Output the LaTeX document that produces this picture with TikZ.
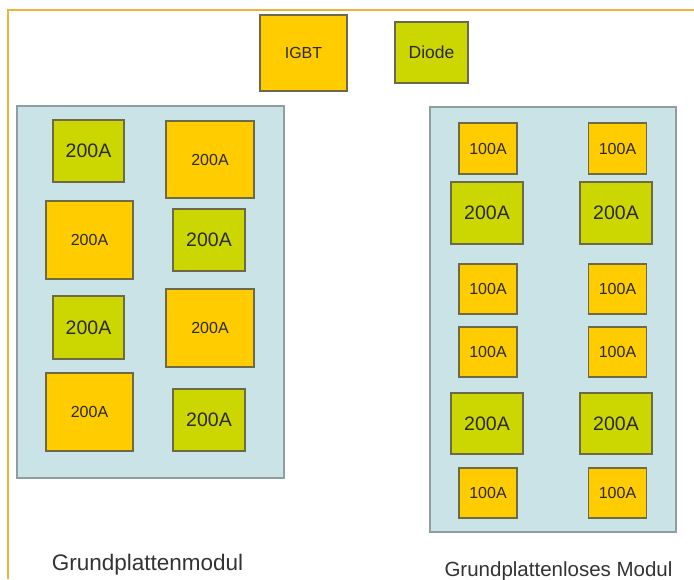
\documentclass[tikz,border=0pt]{standalone}
\usepackage{fontspec}
\setmainfont{Liberation Sans}
\definecolor{igbtc}{HTML}{FFCC00}
\definecolor{diodec}{HTML}{CCD600}
\definecolor{panelc}{HTML}{C9E3E7}
\definecolor{paneledge}{HTML}{8E9EA2}
\definecolor{boxedge}{HTML}{6E6948}
\definecolor{framec}{HTML}{EDB33C}
\definecolor{txtc}{HTML}{2A2A20}
\definecolor{labc}{HTML}{333333}
\begin{document}
\begin{tikzpicture}[x=1pt,y=-1pt,
  panel/.style={draw=paneledge,fill=panelc,line width=1.5pt,inner sep=0pt,rectangle},
  chip/.style={draw=boxedge,line width=1.3pt,inner sep=0pt,rectangle,text=txtc},
  igbt/.style={chip,fill=igbtc,font=\fontsize{16}{16}\selectfont},
  diode/.style={chip,fill=diodec,font=\fontsize{19.5}{19.5}\selectfont},
  lab/.style={text=labc,inner sep=0pt,anchor=base}]
\useasboundingbox (0,0) rectangle (694,579);
\fill[white] (0,0) rectangle (694,579);
\draw[framec,line width=2.5pt] (8,579) -- (8,10) -- (694,10);
% legend
\node[igbt,minimum width=87,minimum height=76] (legI) at (303.5,53) {IGBT};
\node[diode,font=\fontsize{17.5}{17.5}\selectfont,minimum width=73,minimum height=61] (legD) at (431.5,52.5) {Diode};
% left panel
\node[panel,minimum width=267,minimum height=372] (lp) at (150.5,292) {};
\node[diode,minimum width=71,minimum height=62] (l1g) at (88.5,151) {200A};
\node[igbt,minimum width=88,minimum height=77] (l1o) at (210,159.5) {200A};
\node[igbt,minimum width=87,minimum height=78] (l2o) at (89.5,240) {200A};
\node[diode,minimum width=72,minimum height=62] (l2g) at (209,240) {200A};
\node[diode,minimum width=71,minimum height=63] (l3g) at (88.5,327.5) {200A};
\node[igbt,minimum width=88,minimum height=78] (l3o) at (210,328) {200A};
\node[igbt,minimum width=87,minimum height=78] (l4o) at (89.5,412) {200A};
\node[diode,minimum width=72,minimum height=62] (l4g) at (209,420) {200A};
\node[lab,font=\fontsize{22.5}{22.5}\selectfont] (llab) at (147.5,570) {Grundplattenmodul};
% right panel
\node[panel,minimum width=246,minimum height=425] (rp) at (553,319.5) {};
\foreach \c/\x/\bx in {a/488/487,b/617.5/616}{
  \node[igbt,minimum width=58,minimum height=51] (r1\c) at (\x,148.5) {100A};
  \node[diode,minimum width=72,minimum height=62] (r2\c) at (\bx,213) {200A};
  \node[igbt,minimum width=58,minimum height=50] (r3\c) at (\x,289) {100A};
  \node[igbt,minimum width=58,minimum height=50] (r4\c) at (\x,352) {100A};
  \node[diode,minimum width=72,minimum height=61] (r5\c) at (\bx,423.5) {200A};
  \node[igbt,minimum width=58,minimum height=50] (r6\c) at (\x,493) {100A};
}
\node[lab,font=\fontsize{20.5}{20.5}\selectfont] (rlab) at (558.5,576) {Grundplattenloses Modul};
\end{tikzpicture}
\end{document}
